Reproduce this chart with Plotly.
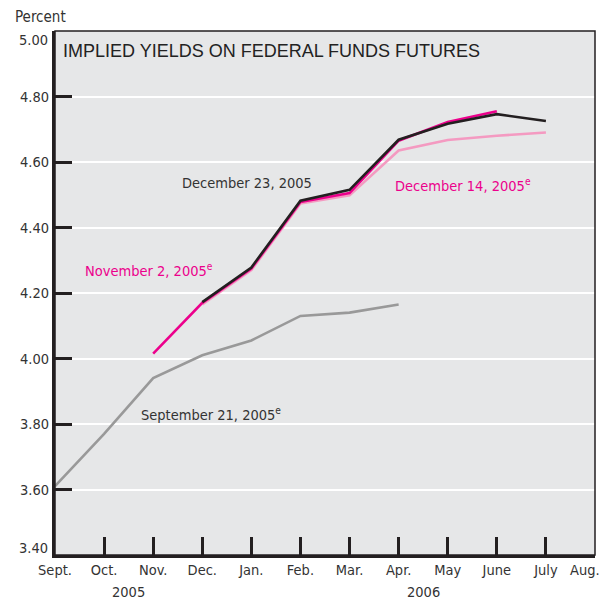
import plotly.graph_objects as go

months = ["Sept.", "Oct.", "Nov.", "Dec.", "Jan.", "Feb.", "Mar.", "Apr.", "May", "June", "July", "Aug."]
y_ticks = [3.40, 3.60, 3.80, 4.00, 4.20, 4.40, 4.60, 4.80, 5.00]

# implied yields by contract month (None = not on that curve)
sep21 = [3.61, 3.77, 3.94, 4.01, 4.055, 4.13, 4.14, 4.165, None, None, None, None]
nov2 = [None, None, 4.015, 4.17, 4.275, 4.478, 4.505, 4.665, 4.722, 4.755, None, None]
dec14 = [None, None, None, 4.165, 4.27, 4.473, 4.498, 4.635, 4.667, 4.68, 4.69, None]
dec23 = [None, None, None, 4.172, 4.278, 4.482, 4.515, 4.668, 4.717, 4.746, 4.725, None]

FONT = "DejaVu Sans Condensed, Liberation Sans Narrow, Arial Narrow, sans-serif"
FS = 14.5
MAGENTA = "#ec008c"
PINK = "#f49ac1"
GRAY = "#999999"
BLACK = "#231f20"
TEXT = "#333333"

x = list(range(len(months)))

fig = go.Figure()
for vals, color in [(sep21, GRAY), (dec14, PINK), (nov2, MAGENTA), (dec23, BLACK)]:
    fig.add_trace(
        go.Scatter(
            x=x,
            y=vals,
            mode="lines",
            line=dict(color=color, width=2.6),
            connectgaps=False,
            hoverinfo="skip",
        )
    )

labels = [
    (3.92, 4.535, "December 23, 2005", TEXT, "center"),
    (0.58, 4.27, "November 2, 2005<sup>e</sup>", MAGENTA, "left"),
    (6.88, 4.53, "December 14, 2005<sup>e</sup>", MAGENTA, "left"),
    (1.72, 3.83, "September 21, 2005<sup>e</sup>", TEXT, "left"),
]
for lx, ly, text, color, anchor in labels:
    fig.add_annotation(
        x=lx, y=ly, text=text, showarrow=False, xanchor=anchor, yanchor="middle",
        font=dict(family=FONT, size=FS, color=color),
    )

# end labels of the y axis sit a little inside the frame, as in the original
for val, shift in [(y_ticks[0], 7), (y_ticks[-1], -9)]:
    fig.add_annotation(
        x=0, y=val, xref="paper", yref="y", text=f"{val:.2f}", showarrow=False,
        xanchor="right", yanchor="middle", xshift=-5, yshift=shift,
        font=dict(family=FONT, size=FS, color=TEXT),
    )

# last month label is kept inside the figure edge so it is not dropped
fig.add_annotation(
    x=x[-1], y=0, xref="x", yref="paper", text=months[-1], showarrow=False,
    xanchor="right", yanchor="top", xshift=7, yshift=-5,
    font=dict(family=FONT, size=FS, color=TEXT),
)

fig.add_annotation(
    x=0.012, y=0.985, xref="paper", yref="paper", text="IMPLIED YIELDS ON FEDERAL FUNDS FUTURES",
    showarrow=False, xanchor="left", yanchor="top",
    font=dict(family="Liberation Sans, Arial, sans-serif", size=18, color="#222222"),
)
fig.add_annotation(
    x=-0.078, y=1.0, xref="paper", yref="paper", text="Percent", showarrow=False,
    xanchor="left", yanchor="bottom", yshift=3, font=dict(family=FONT, size=15, color=TEXT),
)
for xpos, year in [(1.5, "2005"), (7.5, "2006")]:
    fig.add_annotation(
        x=xpos, y=0, xref="x", yref="paper", text=year, showarrow=False,
        yanchor="top", yshift=-27, font=dict(family=FONT, size=FS, color=TEXT),
    )

fig.add_shape(
    type="rect", xref="paper", yref="paper", x0=0, y0=0, x1=1, y1=1,
    line=dict(color=BLACK, width=1.5), layer="above",
)

# page body keeps its 8px margin, so the figure is sized to sit inside it
fig.update_layout(
    width=597,
    height=590,
    margin=dict(l=47, r=10, t=23, b=43),
    paper_bgcolor="#ffffff",
    plot_bgcolor="#e6e7e8",
    showlegend=False,
    font=dict(family=FONT, size=FS, color=TEXT),
    xaxis=dict(
        range=[0, 11],
        tickvals=x,
        ticktext=months[:-1] + [""],
        showgrid=False,
        zeroline=False,
        showline=True,
        linecolor=BLACK,
        linewidth=3,
        ticks="inside",
        ticklen=18,
        tickwidth=2.5,
        tickcolor=BLACK,
        tickfont=dict(family=FONT, size=FS, color=TEXT),
    ),
    yaxis=dict(
        range=[3.40, 5.00],
        tickvals=y_ticks,
        ticktext=[""] + [f"{v:.2f}" for v in y_ticks[1:-1]] + [""],
        showgrid=True,
        gridcolor="#ffffff",
        gridwidth=2,
        zeroline=False,
        showline=True,
        linecolor=BLACK,
        linewidth=3,
        ticks="inside",
        ticklen=17,
        tickwidth=2.5,
        tickcolor=BLACK,
        tickfont=dict(family=FONT, size=FS, color=TEXT),
    ),
)

fig.write_html("out.html", config={"displayModeBar": False})
